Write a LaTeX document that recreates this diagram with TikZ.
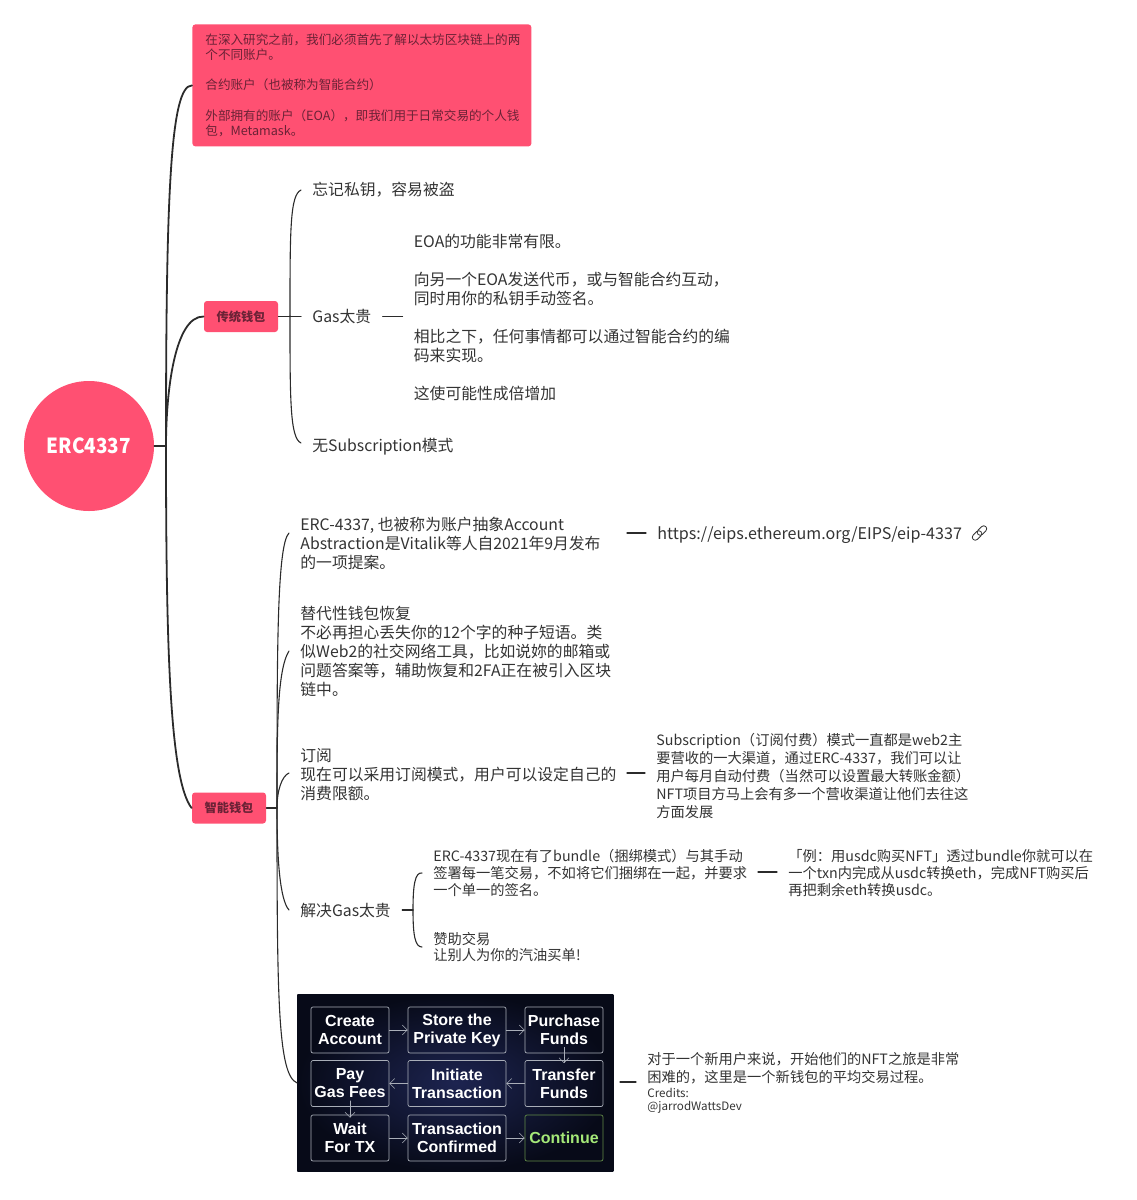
\documentclass[tikz,border=0pt]{standalone}
\usepackage{fontspec}
\usetikzlibrary{arrows.meta}
\setmainfont{Noto Sans CJK SC}
\newfontfamily\latinbold{Liberation Sans}[BoldFont={Liberation Sans Bold}]
\definecolor{rosered}{HTML}{FF5072}
\definecolor{inktext}{HTML}{333333}
\definecolor{inkline}{HTML}{2B2B2B}
\definecolor{boxtext}{HTML}{6B2236}
\definecolor{flowinner}{HTML}{1D2450}
\definecolor{flowouter}{HTML}{070A18}
\definecolor{stepline}{HTML}{A9AEB8}
\definecolor{stepgreen}{HTML}{A4E878}
\begin{document}
\begin{tikzpicture}[x=.5pt,y=-.5pt, line join = round, line cap = round,>={Straight Barb[length=2.5pt,width=5pt]}]
	\tikzset{leaf/.style={anchor=west,align=left,inner ysep=0pt,inner xsep=5.5pt,text=inktext,font=\fontsize{7.9}{9.5}\selectfont},
		small leaf/.style={leaf,font=\fontsize{7.13}{9.1}\selectfont},
		tight leaf/.style={leaf,font=\fontsize{7.13}{8.3}\selectfont},
		wallet/.style={fill=rosered,rounded corners=1.5pt,minimum height=15.5pt,inner sep=0pt,minimum width=37pt,text=boxtext,font=\fontsize{6.1}{8}\selectfont\bfseries},
		branch/.style={draw=inkline,line width=.9pt},
		twig/.style={draw=inkline,line width=.55pt},
		step box/.style={draw=stepline,rounded corners=1pt,line width=.35pt,minimum width=39pt,minimum height=23pt,inner sep=0pt,align=center,text=white,font=\latinbold\bfseries\fontsize{8}{9}\selectfont},
		step arrow/.style={->,draw=stepline,line width=.25pt}}
	\useasboundingbox (0,0) rectangle (1136,1200);
	% root and wallets
	\node[circle,fill=rosered,minimum size=65pt,inner sep=0pt,text=white,font=\fontsize{10.4}{13}\selectfont\bfseries] (root) at (89,446) {\scalebox{.91}[1]{ERC4337}};
	\node[fill=rosered,rounded corners=1.5pt,anchor=north west,minimum width=169.5pt,minimum height=61pt,inner sep=0pt] (intro) at (192,24) {};
	\node[anchor=west,align=left,inner sep=0pt,text=boxtext,font=\fontsize{6.3}{7.6}\selectfont] (introtext) at (205,85) {在深入研究之前，我们必须首先了解以太坊区块链上的两\\个不同账户。\\[7.6pt]合约账户（也被称为智能合约）\\[7.6pt]外部拥有的账户（EOA），即我们用于日常交易的个人钱\\包，Metamask。};
	\node[wallet] (old) at (241,316.5) {传统钱包};
	\node[wallet] (new) at (229,808) {智能钱包};
	\coordinate (trunk) at (166,446);
	\draw[branch] (root.east)--(trunk);
	\draw[branch] (trunk) .. controls (166,200) and (170,85) .. (intro.west);
	\draw[branch] (trunk) .. controls (166,390) and (175,316) .. (old.west);
	\draw[branch] (trunk) .. controls (166,650) and (170,780) .. (new.west);
	% old wallet
	\node[leaf] (forget) at (301,190) {忘记私钥，容易被盗};
	\node[leaf] (gas) at (301,316.5) {Gas太贵};
	\node[leaf] (nosub) at (301,447) {无Subscription模式};
	\node[leaf] (limited) at (402.5,317.5) {EOA的功能非常有限。\\[9.5pt]向另一个EOA发送代币，或与智能合约互动，\\同时用你的私钥手动签名。\\[9.5pt]相比之下，任何事情都可以通过智能合约的编\\码来实现。\\[9.5pt]这使可能性成倍增加};
	\coordinate (oldspine) at (290,316);
	\draw[twig] (old.east)--(gas.west);
	\draw[twig] (oldspine) .. controls (290,230) and (290,195) .. (forget.west);
	\draw[twig] (oldspine) .. controls (290,400) and (290,438) .. ([yshift=2pt]nosub.west);
	\draw[twig] (gas.east)--(gas.east-|limited.west);
	% new wallet
	\node[leaf] (eip) at (289,543) {ERC-4337, 也被称为账户抽象Account\\Abstraction是Vitalik等人自2021年9月发布\\的一项提案。};
	\node[leaf,font=\fontsize{8.05}{9.5}\selectfont] (url) at (646,535) {https://eips.ethereum.org/EIPS/eip-4337};
	\node[leaf] (recover) at (289,651) {替代性钱包恢复\\不必再担心丢失你的12个字的种子短语。类\\似Web2的社交网络工具，比如说妳的邮箱或\\问题答案等，辅助恢复和2FA正在被引入区块\\链中。};
	\node[leaf] (sub) at (289,775) {订阅\\现在可以采用订阅模式，用户可以设定自己的\\消费限额。};
	\node[small leaf] (subnote) at (645,776) {Subscription（订阅付费）模式一直都是web2主\\要营收的一大渠道，通过ERC-4337，我们可以让\\用户每月自动付费（当然可以设置最大转账金额）\\NFT项目方马上会有多一个营收渠道让他们去往这\\方面发展};
	\node[leaf] (fix) at (289,910) {解决Gas太贵};
	\node[tight leaf] (bundle) at (422,873) {ERC-4337现在有了bundle（捆绑模式）与其手动\\签署每一笔交易，不如将它们捆绑在一起，并要求\\一个单一的签名。};
	\node[tight leaf] (example) at (777,873) {「例：用usdc购买NFT」透过bundle你就可以在\\一个txn内完成从usdc转换eth，完成NFT购买后\\再把剩余eth转换usdc。};
	\node[tight leaf] (sponsor) at (422,947) {赞助交易\\让别人为你的汽油买单!};
	\node[minimum width=158pt,minimum height=88.5pt,inner sep=0pt,anchor=north west,inner color=flowinner,outer color=flowouter] (flow) at (297,994) {};
	\node[small leaf] (flownote) at (636,1083) {对于一个新用户来说，开始他们的NFT之旅是非常\\[-.2pt]困难的，这里是一个新钱包的平均交易过程。\\[-1.6pt]{\fontsize{5.8}{6.6}\selectfont Credits:}\\[-2.6pt]{\fontsize{5.8}{6.6}\selectfont @jarrodWattsDev}};
	\coordinate (newspine) at (277,808);
	\coordinate (urlstart) at (627,533);
	\coordinate (substart) at (627,773);
	\coordinate (fixspine) at (413,910);
	\coordinate (examplestart) at (758,872);
	\coordinate (flowstart) at (620,1082);
	\draw[twig] (new.east)--(newspine);
	\draw[twig] (newspine) .. controls (277,650) and (277,545) .. ([yshift=5pt]eip.west);
	\draw[twig] (newspine) .. controls (277,730) and (277,670) .. (recover.west);
	\draw[twig] (newspine) .. controls (277,790) and (282,776) .. ([yshift=1pt]sub.west);
	\draw[twig] (newspine) .. controls (277,860) and (280,900) .. (fix.west);
	\draw[twig] (newspine) .. controls (277,1000) and (278,1075) .. (flow.west);
	\draw[twig] (urlstart)--(urlstart-|url.west);
	\draw[twig] (substart)--(substart-|subnote.west);
	\draw[twig] (fix.east)--(fixspine);
	\draw[twig] (fixspine) .. controls (413,885) and (415,872) .. (bundle.west);
	\draw[twig] (fixspine) .. controls (413,935) and (415,947) .. (sponsor.west);
	\draw[twig] (examplestart)--(examplestart-|example.west);
	\draw[twig] (flowstart)--(flowstart-|flownote.west);
	% link icon
	\begin{scope}[shift={(979.5,533)},rotate=45,line width=.4pt]
		\draw[inktext,rounded corners=1.5pt] (-9,-3) rectangle (2,3);
		\draw[inktext,rounded corners=1.5pt] (-2,-3) rectangle (9,3);
	\end{scope}
	% flow picture
	\node[step box] (create) at (350,1030) {Create\\Account};
	\node[step box,minimum width=49pt] (store) at (457,1030) {Store the\\Private Key};
	\node[step box] (purchase) at (564,1030) {Purchase\\Funds};
	\node[step box] (transfer) at (564,1083.5) {Transfer\\Funds};
	\node[step box,minimum width=49pt] (initiate) at (457,1083.5) {Initiate\\Transaction};
	\node[step box] (pay) at (350,1083.5) {Pay\\Gas Fees};
	\node[step box] (wait) at (350,1138) {Wait\\For TX};
	\node[step box,minimum width=49pt] (confirmed) at (457,1138) {Transaction\\Confirmed};
	\node[step box,draw=stepgreen!60!black,text=stepgreen] (continue) at (564,1138) {Continue};
	\foreach \a/\b in {create/store,store/purchase,transfer/initiate,initiate/pay,wait/confirmed,confirmed/continue}
		\draw[step arrow] (\a)--(\b);
	\foreach \a/\b in {purchase/transfer,pay/wait}
		\draw[step arrow,shorten <=-3pt,shorten >=-1.5pt] (\a)--(\b);
\end{tikzpicture}
\end{document}
